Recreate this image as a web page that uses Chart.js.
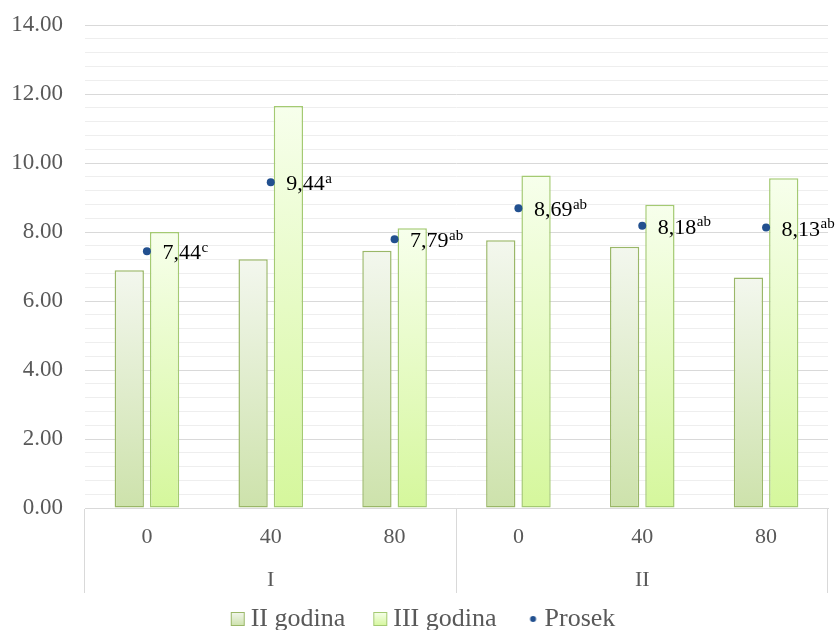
<!DOCTYPE html>
<html><head><meta charset="utf-8">
<script src="https://cdn.jsdelivr.net/npm/chart.js@4"></script>
<style>html,body{margin:0;padding:0;background:#fff}#wrap{width:840px;height:630px;position:relative}</style>
</head><body><div id="wrap"><canvas id="c"></canvas></div>
<script>
const categories = ['0','40','80','0','40','80'];
const groups = ['I','II'];
const seriesNames = ['II godina','III godina','Prosek'];
const godinaII = [6.89, 7.21, 7.46, 7.76, 7.57, 6.68];
const godinaIII = [8.00, 11.65, 8.11, 9.64, 8.79, 9.56];
const prosek = [7.44, 9.44, 7.79, 8.69, 8.18, 8.13];
const prosekLetters = ['c','a','ab','ab','ab','ab'];
const yMin = 0, yMax = 14, yMajorStep = 2, yMinorStep = 0.4;

const SERIF = "'Liberation Serif','Times New Roman',serif";
const TXT = '#595959';
const colII = {top:'#f3f7ee', bottom:'#cde2ab', border:'#9ab768'};
const colIII = {top:'#f7ffec', bottom:'#d5f79c', border:'#a4ca72'};
const dotColor = '#22508f';

function isMajor(v){ return v !== undefined && Math.abs(v - Math.round(v / yMajorStep) * yMajorStep) < 1e-6; }

function barGradient(c){
  return (ctx) => {
    const chart = ctx.chart;
    if (!chart.chartArea || ctx.type !== 'data' || !chart.scales.y) return c.bottom;
    const v = ctx.parsed ? ctx.parsed.y : ctx.raw;
    const ys = chart.scales.y;
    const y0 = ys.getPixelForValue(0), y1 = ys.getPixelForValue(v);
    if (!isFinite(y0) || !isFinite(y1) || y0 === y1) return c.bottom;
    const g = chart.ctx.createLinearGradient(0, y1, 0, y0);
    g.addColorStop(0, c.top); g.addColorStop(1, c.bottom);
    return g;
  };
}

const BW = 25;
function legendMarker(kind, c){
  const cv = document.createElement('canvas');
  cv.width = BW + 16; cv.height = 16;
  const g = cv.getContext('2d');
  if (kind === 'rect'){
    const grd = g.createLinearGradient(0, 1, 0, 15);
    grd.addColorStop(0, c.top); grd.addColorStop(1, c.bottom);
    g.fillStyle = grd; g.fillRect(BW + 1.5, 1.5, 13, 13);
    g.strokeStyle = c.border; g.lineWidth = 1; g.strokeRect(BW + 1.5, 1.5, 13, 13);
  } else {
    g.fillStyle = c; g.beginPath(); g.arc(BW + 9.5, 8, 3, 0, Math.PI * 2); g.fill();
  }
  return cv;
}

const prosekLabels = {
  id: 'prosekLabels',
  afterDatasetsDraw(chart){
    const meta = chart.getDatasetMeta(2);
    const ctx = chart.ctx;
    ctx.save();
    ctx.fillStyle = '#000';
    ctx.textAlign = 'left';
    ctx.textBaseline = 'alphabetic';
    meta.data.forEach((pt, i) => {
      const main = prosek[i].toFixed(2).replace('.', ',');
      ctx.font = `22px ${SERIF}`;
      const x = pt.x + 15.5;
      ctx.fillText(main, x, pt.y + 8);
      const w = ctx.measureText(main).width;
      ctx.font = `15px ${SERIF}`;
      ctx.fillText(prosekLetters[i], x + w + 0.5, pt.y + 0.5);
    });
    ctx.restore();
  }
};

new Chart(document.getElementById('c'), {
  data: {
    labels: categories,
    datasets: [
      { type:'bar', label: seriesNames[0], data: godinaII, backgroundColor: barGradient(colII), borderColor: colII.border, borderWidth: 1.5, borderSkipped: false, categoryPercentage: 0.57, barPercentage: 0.83, xAxisID:'x', yAxisID:'y' },
      { type:'bar', label: seriesNames[1], data: godinaIII, backgroundColor: barGradient(colIII), borderColor: colIII.border, borderWidth: 1.5, borderSkipped: false, categoryPercentage: 0.57, barPercentage: 0.83, xAxisID:'x', yAxisID:'y' },
      { type:'line', label: seriesNames[2], data: prosek, showLine: false, pointRadius: 4, pointHoverRadius: 4, pointBackgroundColor: dotColor, pointBorderWidth: 0, borderColor: dotColor, order: -1, xAxisID:'x', yAxisID:'y' }
    ]
  },
  options: {
    responsive: true,
    maintainAspectRatio: false,
    animation: false,
    devicePixelRatio: 1,
    layout: { padding: { top: 25, right: 12, bottom: -12, left: 0 } },
    scales: {
      y: {
        min: yMin, max: yMax,
        afterFit: s => { s.width = 85; s.paddingTop = 0; s.paddingBottom = 0; },
        border: { display: false },
        grid: { drawTicks: false, lineWidth: 1, color: c => (c.tick && isMajor(c.tick.value)) ? '#d9d9d9' : '#eeeeee' },
        ticks: { stepSize: yMinorStep, autoSkip: false, maxTicksLimit: 100, padding: 22, color: TXT, font: { family: SERIF, size: 23 },
          callback: v => isMajor(v) ? Number(v).toFixed(2) : '' }
      },
      x: {
        type: 'category', labels: categories, offset: true, position: 'bottom', weight: 0,
        afterFit: s => { s.height = 42; },
        border: { display: true, color: '#d9d9d9', width: 1 },
        grid: { offset: true, drawOnChartArea: false, drawTicks: true, tickLength: 85, lineWidth: 1,
          color: c => (c.type !== 'tick' || c.index % 3 === 0) ? '#d9d9d9' : 'rgba(0,0,0,0)' },
        ticks: { autoSkip: false, maxRotation: 0, minRotation: 0, padding: -69, color: TXT, font: { family: SERIF, size: 22 } }
      },
      xGroup: {
        type: 'category', labels: groups, offset: true, position: 'bottom', weight: 1,
        afterFit: s => { s.height = 46; },
        border: { display: false },
        grid: { display: false, drawTicks: false },
        ticks: { autoSkip: false, maxRotation: 0, minRotation: 0, padding: 17, color: TXT, font: { family: SERIF, size: 22 } }
      }
    },
    plugins: {
      tooltip: { enabled: false },
      legend: {
        position: 'bottom',
        labels: {
          usePointStyle: true,
          boxWidth: BW,
          padding: 10,
          color: TXT,
          font: { family: SERIF, size: 26 },
          generateLabels: () => [
            { text: seriesNames[0], pointStyle: legendMarker('rect', colII), fillStyle: 'transparent', strokeStyle: 'transparent', lineWidth: 0, hidden: false, datasetIndex: 0, fontColor: TXT },
            { text: seriesNames[1], pointStyle: legendMarker('rect', colIII), fillStyle: 'transparent', strokeStyle: 'transparent', lineWidth: 0, hidden: false, datasetIndex: 1, fontColor: TXT },
            { text: seriesNames[2], pointStyle: legendMarker('dot', dotColor), fillStyle: 'transparent', strokeStyle: 'transparent', lineWidth: 0, hidden: false, datasetIndex: 2, fontColor: TXT }
          ]
        }
      }
    }
  },
  plugins: [prosekLabels]
});
</script>
</body></html>
